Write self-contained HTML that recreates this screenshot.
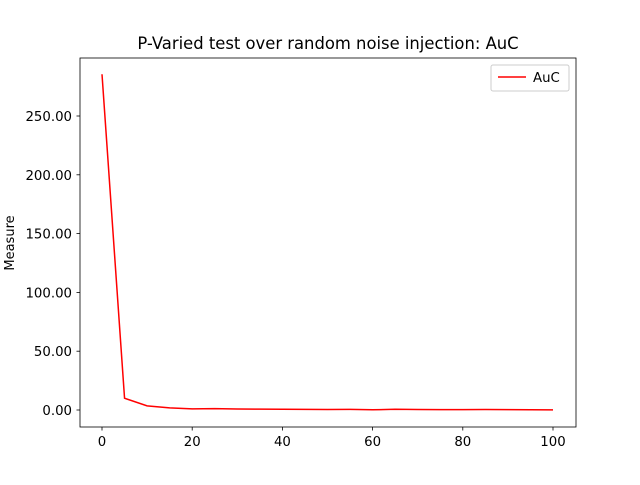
<!DOCTYPE html>
<html><head><meta charset="utf-8"><style>
body{margin:0;background:#fff;font-family:"Liberation Sans","DejaVu Sans",sans-serif;}
text{font-family:"DejaVu Sans","Liberation Sans",sans-serif;}
</style></head><body>
<svg id="chart" width="640" height="480" xmlns="http://www.w3.org/2000/svg">
<rect width="640" height="480" fill="#fff"/>
<text x="328" y="49" text-anchor="middle" font-size="16.4">P-Varied test over random noise injection: AuC</text>
<text transform="translate(14,243) rotate(-90)" text-anchor="middle" font-size="13">Measure</text>
<g id="ticks"></g>
<path id="line" fill="none" stroke="#ff0000" stroke-width="1.5"/>
<rect x="80" y="58" width="496" height="369" fill="none" stroke="#000" stroke-width="0.8"/>
<g>
<rect x="491" y="65" width="78" height="26" rx="2" fill="#fff" stroke="#ccc"/>
<line x1="498" y1="77" x2="526" y2="77" stroke="#ff0000" stroke-width="1.5"/>
<text x="533" y="82" font-size="13.3">AuC</text>
</g>
</svg>
<script>
const xValues=[0,5,10,15,20,25,30,35,40,45,50,55,60,65,70,75,80,85,90,95,100];
const aucValues=[285.5,10,3.5,1.8,1,1.2,0.8,0.7,0.6,0.5,0.4,0.5,0.2,0.6,0.4,0.3,0.3,0.4,0.3,0.2,0.1];
const xTicks=[0,20,40,60,80,100];
const yTicks=[0,50,100,150,200,250];
const xs=v=>102+v*(553-102)/100;
const ys=v=>410-v*(410-116)/250;
const ns="http://www.w3.org/2000/svg";
const g=document.getElementById('ticks');
function mk(t,a){const e=document.createElementNS(ns,t);for(const k in a)e.setAttribute(k,a[k]);g.appendChild(e);return e;}
xTicks.forEach(v=>{
 const l=mk('line',{x1:xs(v),x2:xs(v),y1:427,y2:430.5,stroke:'#000','stroke-width':0.8});
 
 
 const t=mk('text',{x:xs(v),y:446,'text-anchor':'middle','font-size':13.3});
 t.textContent=v;
 
 
});
yTicks.forEach(v=>{
 const l=mk('line',{x1:76.5,x2:80,y1:ys(v),y2:ys(v),stroke:'#000','stroke-width':0.8});
 
 
 const t=mk('text',{x:72,y:ys(v)+5,'text-anchor':'end','font-size':13.3});
 t.textContent=v.toFixed(2);
 
 
});
document.getElementById('line').setAttribute('d',xValues.map((x,i)=>(i?'L':'M')+xs(x)+','+ys(aucValues[i])).join(' '));
</script>
</body></html>
